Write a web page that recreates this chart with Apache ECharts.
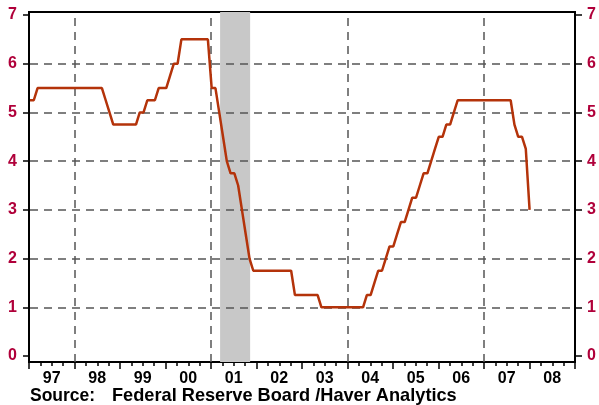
<!DOCTYPE html>
<html>
<head>
<meta charset="utf-8">
<script src="https://cdn.jsdelivr.net/npm/echarts@6/dist/echarts.min.js"></script>
<style>
  html, body { margin: 0; padding: 0; background: #fff; }
  #chart { width: 599px; height: 405px; }
</style>
</head>
<body>
<div id="chart"></div>
<script>
// Fed funds target rate, end of month, Jan 1997 .. Jan 2008
const startYear = 1997;
const fedFunds = [
  5.25, 5.25, 5.5, 5.5, 5.5, 5.5, 5.5, 5.5, 5.5, 5.5, 5.5, 5.5,          // 97
  5.5, 5.5, 5.5, 5.5, 5.5, 5.5, 5.5, 5.5, 5.25, 5.0, 4.75, 4.75,         // 98
  4.75, 4.75, 4.75, 4.75, 4.75, 5.0, 5.0, 5.25, 5.25, 5.25, 5.5, 5.5,    // 99
  5.5, 5.75, 6.0, 6.0, 6.5, 6.5, 6.5, 6.5, 6.5, 6.5, 6.5, 6.5,           // 00
  5.5, 5.5, 5.0, 4.5, 4.0, 3.75, 3.75, 3.5, 3.0, 2.5, 2.0, 1.75,         // 01
  1.75, 1.75, 1.75, 1.75, 1.75, 1.75, 1.75, 1.75, 1.75, 1.75, 1.25, 1.25,// 02
  1.25, 1.25, 1.25, 1.25, 1.25, 1.0, 1.0, 1.0, 1.0, 1.0, 1.0, 1.0,       // 03
  1.0, 1.0, 1.0, 1.0, 1.0, 1.25, 1.25, 1.5, 1.75, 1.75, 2.0, 2.25,       // 04
  2.25, 2.5, 2.75, 2.75, 3.0, 3.25, 3.25, 3.5, 3.75, 3.75, 4.0, 4.25,    // 05
  4.5, 4.5, 4.75, 4.75, 5.0, 5.25, 5.25, 5.25, 5.25, 5.25, 5.25, 5.25,   // 06
  5.25, 5.25, 5.25, 5.25, 5.25, 5.25, 5.25, 5.25, 4.75, 4.5, 4.5, 4.25,  // 07
  3.0                                                                    // 08
];
const yearLabels = ['97', '98', '99', '00', '01', '02', '03', '04', '05', '06', '07', '08'];
const gridYears = [1998, 2001, 2004, 2007];
const recession = [2001.2, 2001.86];

const red = '#b0003a';
const font = 'Liberation Sans, Arial, sans-serif';

const lineData = fedFunds.map((v, i) => [startYear + i / 12, v]);

const chart = echarts.init(document.getElementById('chart'));
chart.setOption({
  animation: false,
  grid: [
    { left: 30, right: 24, top: 15, bottom: 49 },
    { left: 29, right: 24, top: 12, bottom: 43, show: true, borderColor: '#000', borderWidth: 2 }
  ],
  xAxis: [
    { gridIndex: 0, type: 'value', min: 1997, max: 2009, show: false },
    {
      gridIndex: 1, type: 'value', min: 1997, max: 2009, interval: 1,
      axisLine: { show: true, lineStyle: { color: '#000', width: 2 } },
      axisTick: { show: true, length: 7, lineStyle: { color: '#000', width: 1.5 } },
      minorTick: { show: true, splitNumber: 4, length: 4, lineStyle: { color: '#000', width: 1.5 } },
      axisLabel: { show: false },
      splitLine: { show: false }
    },
    {
      gridIndex: 1, type: 'category', position: 'bottom', data: yearLabels, boundaryGap: true,
      axisLine: { show: false }, axisTick: { show: false },
      axisLabel: { margin: 9, color: '#000', fontSize: 16, fontWeight: 'bold', fontFamily: font }
    }
  ],
  yAxis: [
    {
      gridIndex: 0, type: 'value', min: 0, max: 7, interval: 1, position: 'left', z: 3,
      axisLine: { show: false },
      axisTick: { show: true, length: 7, lineStyle: { color: '#000', width: 1.5 } },
      axisLabel: { margin: 13, color: red, fontSize: 16, fontWeight: 'bold', fontFamily: font },
      splitLine: { show: true, showMinLine: false, showMaxLine: false, lineStyle: { color: '#555', width: 1.5, type: [8, 6] } }
    },
    {
      gridIndex: 0, type: 'value', min: 0, max: 7, interval: 1, position: 'right',
      axisLine: { show: false },
      axisTick: { show: true, length: 7, lineStyle: { color: '#000', width: 1.5 } },
      axisLabel: { margin: 12, color: red, fontSize: 16, fontWeight: 'bold', fontFamily: font },
      splitLine: { show: false }
    },
    { gridIndex: 1, type: 'value', min: 0, max: 1, show: false }
  ],
  series: [
    {
      type: 'line', xAxisIndex: 1, yAxisIndex: 2, z: 1,
      data: [[1997, -1]], symbol: 'none', lineStyle: { opacity: 0 }, silent: true,
      markArea: {
        silent: true,
        itemStyle: { color: '#c8c8c8' },
        data: [[{ xAxis: recession[0] }, { xAxis: recession[1] }]]
      },
      markLine: {
        silent: true, symbol: 'none', label: { show: false },
        lineStyle: { color: '#555', width: 1.5, type: [8, 6] },
        data: gridYears.map(y => ({ xAxis: y }))
      }
    },
    {
      type: 'line', xAxisIndex: 0, yAxisIndex: 0, z: 5,
      data: lineData, symbol: 'none',
      lineStyle: { color: '#b4330a', width: 2.5 }
    }
  ],
  graphic: [
    {
      type: 'text', left: 30, top: 387,
      style: { text: 'Source:', fill: '#000', font: 'bold 17.5px ' + font }
    },
    {
      type: 'text', left: 112, top: 387,
      style: { text: 'Federal Reserve Board /Haver Analytics', fill: '#000', font: 'bold 18.2px ' + font }
    }
  ]
});
</script>
</body>
</html>
